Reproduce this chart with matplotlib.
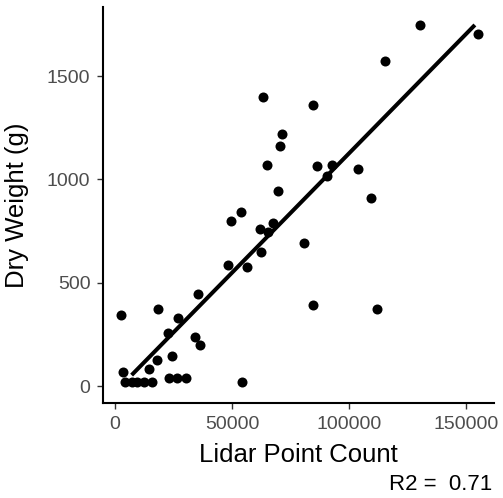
import matplotlib
matplotlib.use("Agg")
import matplotlib.pyplot as plt

plt.rcParams['font.family'] = ['Liberation Sans', 'DejaVu Sans']

# Lidar point count vs. measured dry weight per sample
point_count = [2600, 3400, 4300, 7100, 9600, 12400, 15700, 14400, 17800, 18500,
               24300, 22800, 27100, 22900, 26500, 30200, 34200, 36300, 35300, 48300,
               49400, 53900, 54100, 56300, 62000, 62300, 63100, 65000, 65500, 67500,
               69800, 70400, 71500, 80900, 84500, 84700, 86200, 90700, 92900, 103700,
               109300, 111800, 115300, 130300, 155000]
dry_weight = [342, 69, 18, 18, 18, 18, 18, 84, 126, 374,
              143, 258, 328, 37, 40, 37, 239, 198, 445, 586,
              801, 840, 21, 575, 759, 650, 1397, 1070, 745, 791,
              943, 1163, 1220, 694, 1360, 394, 1065, 1016, 1071, 1050,
              910, 374, 1571, 1747, 1702]

# linear fit
fit_intercept = -29.0
fit_slope = 0.011548
fit_x = [7100, 153800]
r2_value = 0.71

x_ticks = [0, 50000, 100000, 150000]
y_ticks = [0, 500, 1000, 1500]

W, H = 503, 498
fig = plt.figure(figsize=(W / 100, H / 100), dpi=100)
ax = fig.add_axes([103 / W, (H - 403) / H, (494 - 103) / W, (403 - 7) / H])

ax.scatter(point_count, dry_weight, s=52, color='black', linewidths=0, zorder=3)
fit_y = [fit_intercept + fit_slope * x for x in fit_x]
ax.plot(fit_x, fit_y, color='black', linewidth=2.9, solid_capstyle='butt', zorder=4)

ax.set_xlim(-5128, 161966)
ax.set_ylim(-82, 1834)
ax.set_xticks(x_ticks)
ax.set_xticklabels([str(v) for v in x_ticks])
ax.set_yticks(y_ticks)
ax.set_yticklabels([str(v) for v in y_ticks])

for side in ['top', 'right']:
    ax.spines[side].set_visible(False)
for side in ['left', 'bottom']:
    ax.spines[side].set_linewidth(1.5)
    ax.spines[side].set_color('black')

ax.tick_params(axis='both', length=4.0, width=1.0, color='#333333',
               labelsize=14, labelcolor='#4D4D4D', pad=5)

ax.set_xlabel('Lidar Point Count', fontsize=18.5, va='center')
ax.xaxis.set_label_coords(0.5, (403 - 455) / 396)
ax.set_ylabel('Dry Weight (g)', fontsize=18.5, va='center')
ax.yaxis.set_label_coords((17 - 103) / 391, 0.5)

fig.text(492 / W, 1 - 484 / H, f'R2 =  {r2_value:.2f}', fontsize=16,
         ha='right', va='center')

fig.savefig('out.png', dpi=100)
